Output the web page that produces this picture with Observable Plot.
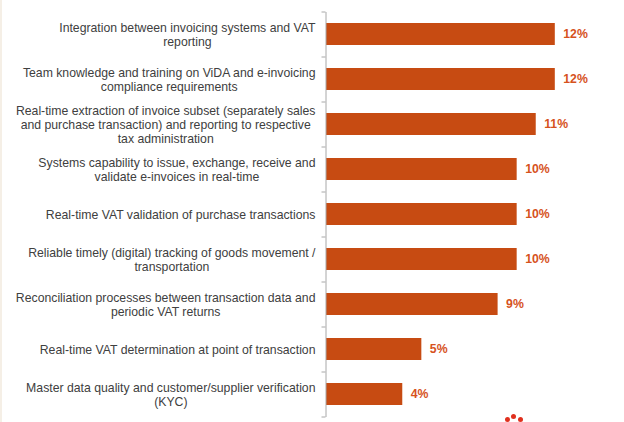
<!DOCTYPE html>
<html>
<head>
<meta charset="utf-8">
<script src="https://cdn.jsdelivr.net/npm/d3@7"></script>
<script src="https://cdn.jsdelivr.net/npm/@observablehq/plot@0.6"></script>
<style>
  html, body { margin: 0; padding: 0; background: #ffffff; }
  body { width: 624px; height: 422px; overflow: hidden; position: relative; font-family: "Liberation Sans", Arial, sans-serif; }
  #strip { position: absolute; left: 0; top: 0; width: 2px; height: 422px; background: #f5efe6; }
  #chart { position: absolute; left: 0; top: 0; }
  #logo { position: absolute; left: 504px; top: 413px; width: 20px; height: 9px; }
  #logo span { position: absolute; width: 5px; height: 5px; border-radius: 50%; background: #e0301e; }
</style>
</head>
<body>
<div id="chart"></div>
<div id="strip"></div>
<div id="logo"><span style="left:1px;top:4px"></span><span style="left:7px;top:1px"></span><span style="left:14px;top:4px"></span></div>
<script>
// Priority areas for ViDA readiness, share of respondents (%)
const categories = [
  "Integration between invoicing systems and VAT\nreporting",
  "Team knowledge and training on ViDA and e-invoicing\ncompliance requirements",
  "Real-time extraction of invoice subset (separately sales\nand purchase transaction) and reporting to respective\ntax administration",
  "Systems capability to issue, exchange, receive and\nvalidate e-invoices in real-time",
  "Real-time VAT validation of purchase transactions",
  "Reliable timely (digital) tracking of goods movement /\ntransportation",
  "Reconciliation processes between transaction data and\nperiodic VAT returns",
  "Real-time VAT determination at point of transaction",
  "Master data quality and customer/supplier verification\n(KYC)"
];
const values = [12, 12, 11, 10, 10, 10, 9, 5, 4];

const rows = categories.map((c, i) => ({category: c, value: values[i]}));

const barColor = "#c74b12";
const labelColor = "#d6521d";
const textColor = "#404040";
const axisColor = "#a8a8a8";

const W = 624, H = 422;
const mTop = 12, mBottom = 5;
const step = (H - mTop - mBottom) / categories.length;

const chart = Plot.plot({
  width: W,
  height: H,
  marginLeft: 326,
  marginRight: 12,
  marginTop: mTop,
  marginBottom: mBottom,
  style: {fontFamily: "'Liberation Sans', Arial, sans-serif", fontSize: "12px", background: "transparent"},
  x: {domain: [0, 15], axis: null},
  y: {domain: categories, axis: null, paddingInner: 0.51, paddingOuter: 0.255},
  marks: [
    Plot.barX(rows, {y: "category", x: "value", fill: barColor}),
    // vertical axis line with short ticks at band boundaries
    Plot.ruleX([0], {stroke: axisColor, strokeWidth: 1, dx: -0.5}),
    Plot.ruleY(categories, {y: d => d, x1: 0, x2: 0, insetLeft: -4, dy: -step / 2, dx: -0.5, stroke: axisColor}),
    Plot.ruleY(categories.slice(-1), {y: d => d, x1: 0, x2: 0, insetLeft: -4, dy: step / 2, dx: -0.5, stroke: axisColor}),
    // category labels
    Plot.text(rows, {y: "category", x: 0, text: "category", textAnchor: "end", dx: -11, fill: textColor, fontSize: 12.25, lineHeight: 1.13}),
    // value labels
    Plot.text(rows, {y: "category", x: "value", text: d => d.value + "%", textAnchor: "start", dx: 8, fill: labelColor, fontSize: 12.25, fontWeight: "bold"})
  ]
});

document.getElementById("chart").appendChild(chart);

// centre the lines of multi-line labels within their right-aligned block
chart.querySelectorAll("text").forEach(t => {
  const spans = t.querySelectorAll("tspan");
  if (spans.length < 2) return;
  let maxW = 0;
  spans.forEach(s => { maxW = Math.max(maxW, s.getComputedTextLength()); });
  t.setAttribute("text-anchor", "middle");
  spans.forEach(s => s.setAttribute("x", -maxW / 2));
});
</script>
</body>
</html>
